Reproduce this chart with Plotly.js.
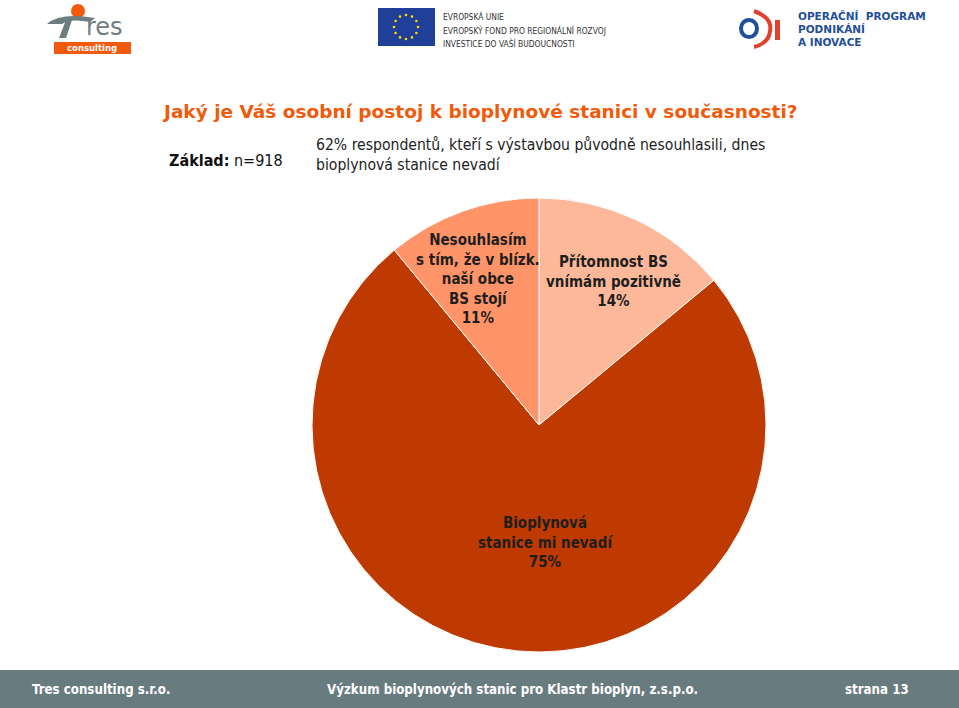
<!DOCTYPE html>
<html><head><meta charset="utf-8">
<script src="https://cdn.plot.ly/plotly-3.0.1.min.js"></script>
<style>html,body{margin:0;padding:0;background:#fff}#c{width:959px;height:708px}</style>
</head><body><div id="c"></div>
<script>
const categories = ["Přítomnost BS<br>vnímám pozitivně", "Bioplynová<br>stanice mi nevadí", "Nesouhlasím<br>s tím, že v blízk.<br>naší obce<br>BS stojí"];
const values = [14, 75, 11];
const sliceColors = ["#FDB89A", "#BF3A00", "#FE9467"];
const labelPos = [[613, 281], [545, 542], [478, 279]];

const W = 959, H = 708;
const cx = 539, cy = 425, R = 227;
const px = x => x / W, py = y => 1 - y / H;

const fontT = "DejaVu Sans Condensed, Tahoma, sans-serif";
const annotations = [];
categories.forEach((c, i) => {
  annotations.push({xref:'paper', yref:'paper', x: px(labelPos[i][0]), y: py(labelPos[i][1]),
    text: '<b>' + c + '<br>' + values[i] + '%</b>', showarrow:false, align:'center',
    font:{family:fontT, size:15, color:'#1e1e1e'}, xanchor:'center', yanchor:'middle'});
});
// title & texts
annotations.push({xref:'paper', yref:'paper', x: px(160), y: py(112), xanchor:'left', yanchor:'middle', showarrow:false,
  text:'<b>Jaký je Váš osobní postoj k bioplynové stanici v současnosti?</b>', font:{family:'DejaVu Sans, Verdana, sans-serif', size:18.5, color:'#F05A0A'}});
annotations.push({xref:'paper', yref:'paper', x: px(167), y: py(160), xanchor:'left', yanchor:'middle', showarrow:false,
  text:'<b>Základ:</b> n=918', font:{family:fontT, size:16, color:'#111'}});
annotations.push({xref:'paper', yref:'paper', x: px(314), y: py(155), xanchor:'left', yanchor:'middle', showarrow:false, align:'left',
  text:'62% respondentů, kteří s výstavbou původně nesouhlasili, dnes<br>bioplynová stanice nevadí', font:{family:fontT, size:15.6, color:'#222'}});
// footer
const footFont = {family:fontT, size:13.2, color:'#fff'};
annotations.push({xref:'paper', yref:'paper', x: px(30), y: py(689), xanchor:'left', yanchor:'middle', showarrow:false, text:'<b>Tres consulting s.r.o.</b>', font:footFont});
annotations.push({xref:'paper', yref:'paper', x: px(512), y: py(689), xanchor:'center', yanchor:'middle', showarrow:false, text:'<b>Výzkum bioplynových stanic pro Klastr bioplyn, z.s.p.o.</b>', font:footFont});
annotations.push({xref:'paper', yref:'paper', x: px(911), y: py(689), xanchor:'right', yanchor:'middle', showarrow:false, text:'<b>strana 13</b>', font:footFont});
// EU text
const euFont = {family:fontT, size:8.4, color:'#333'};
[['EVROPSKÁ UNIE',16],['EVROPSKÝ FOND PRO REGIONÁLNÍ ROZVOJ',30],['INVESTICE DO VAŠÍ BUDOUCNOSTI',43]].forEach(t=>{
  annotations.push({xref:'paper', yref:'paper', x: px(441), y: py(t[1]), xanchor:'left', yanchor:'middle', showarrow:false, text:t[0], font:euFont});
});
// OP PIK text
const opFont = {family:'DejaVu Sans, Verdana, sans-serif', size:10.5, color:'#1F4E9A'};
[['<b>OPERAČNÍ  PROGRAM</b>',16],['<b>PODNIKÁNÍ</b>',29],['<b>A INOVACE</b>',42]].forEach(t=>{
  annotations.push({xref:'paper', yref:'paper', x: px(796), y: py(t[1]), xanchor:'left', yanchor:'middle', showarrow:false, text:t[0], font:opFont});
});
// Tres logo text
annotations.push({xref:'paper', yref:'paper', x: px(84), y: py(27), xanchor:'left', yanchor:'middle', showarrow:false, text:'res', font:{family:'DejaVu Sans, sans-serif', size:24, color:'#6E7E80'}});
annotations.push({xref:'paper', yref:'paper', x: px(92), y: py(48), xanchor:'center', yanchor:'middle', showarrow:false, text:'<b>consulting</b>', font:{family:'DejaVu Sans, sans-serif', size:8.5, color:'#fff'}});
// EU stars
const stars = [];
for (let k = 0; k < 12; k++) {
  const a = k * Math.PI / 6;
  stars.push([406 + 12 * Math.cos(a), 27 + 12 * Math.sin(a)]);
}

const shapes = [
  {type:'rect', xref:'paper', yref:'paper', x0:0, x1:1, y0:py(708), y1:py(670), fillcolor:'#687C7F', line:{width:0}, layer:'below'},
  {type:'rect', xref:'paper', yref:'paper', x0:px(378), x1:px(435), y0:py(46), y1:py(8), fillcolor:'#1F3F99', line:{width:0}},
  // Tres logo
  {type:'circle', xref:'paper', yref:'paper', x0:px(71), x1:px(85), y0:py(18), y1:py(4), fillcolor:'#F05A0A', line:{width:0}},
  {type:'path', xref:'paper', yref:'paper', path:'M '+px(47)+' '+py(24)+' Q '+px(60)+' '+py(12)+' '+px(95)+' '+py(18)+' L '+px(90)+' '+py(22)+' Q '+px(70)+' '+py(18)+' '+px(62)+' '+py(24)+' Z', fillcolor:'#6E7E80', line:{width:0}},
  {type:'path', xref:'paper', yref:'paper', path:'M '+px(66)+' '+py(20)+' L '+px(72)+' '+py(20)+' L '+px(66)+' '+py(38)+' L '+px(59)+' '+py(38)+' Z', fillcolor:'#6E7E80', line:{width:0}},
  {type:'rect', xref:'paper', yref:'paper', x0:px(54), x1:px(131), y0:py(54), y1:py(42), fillcolor:'#F05A0A', line:{width:0}},
  // OP PIK logo
  {type:'circle', xref:'paper', yref:'paper', x0:px(741), x1:px(757), y0:py(37), y1:py(20), fillcolor:'rgba(0,0,0,0)', line:{width:4, color:'#1F4E9A'}},
  {type:'path', xref:'paper', yref:'paper', path:'M '+px(754)+' '+py(11)+' Q '+px(773)+' '+py(18)+' '+px(770)+' '+py(31)+' Q '+px(769)+' '+py(43)+' '+px(754)+' '+py(47), fillcolor:'rgba(0,0,0,0)', line:{width:4, color:'#E0402E'}},
  {type:'rect', xref:'paper', yref:'paper', x0:px(775), x1:px(780), y0:py(40), y1:py(20), fillcolor:'#E0402E', line:{width:0}},
];
stars.forEach(s => shapes.push({type:'circle', xref:'paper', yref:'paper', x0:px(s[0]-1.3), x1:px(s[0]+1.3), y0:py(s[1]+1.3), y1:py(s[1]-1.3), fillcolor:'#FFDD00', line:{width:0}}));

const data = [{
  type:'pie', values: values, labels: categories, sort:false, direction:'clockwise', rotation:0,
  marker:{colors: sliceColors, line:{color:'#ffffff', width:1}},
  textinfo:'none', hoverinfo:'none', showlegend:false,
  domain:{x:[px(cx-R), px(cx+R)], y:[py(cy+R), py(cy-R)]}
}];
const layout = {width:W, height:H, margin:{l:0,r:0,t:0,b:0}, paper_bgcolor:'#fff', showlegend:false, annotations, shapes};
Plotly.newPlot('c', data, layout, {displayModeBar:false, staticPlot:true});
</script></body></html>
